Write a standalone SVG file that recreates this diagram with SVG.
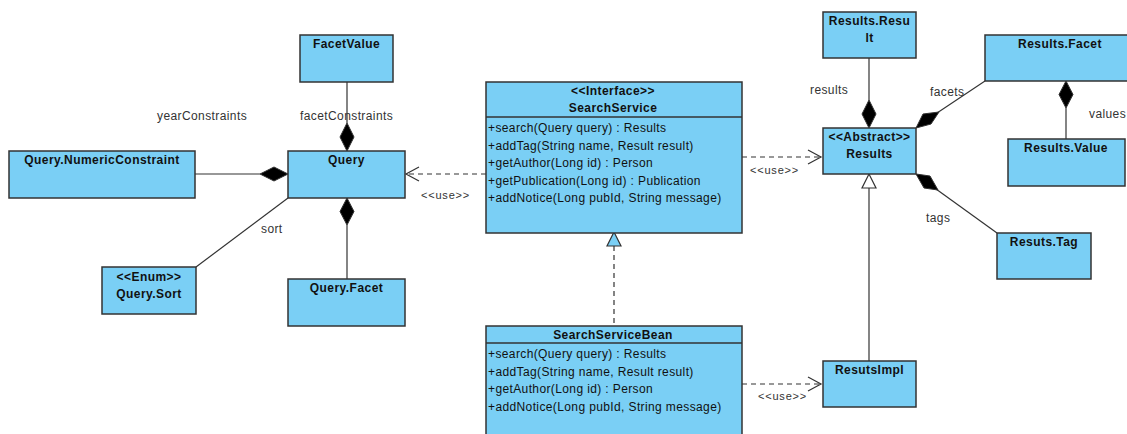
<svg xmlns="http://www.w3.org/2000/svg" width="1127" height="434" viewBox="0 0 1127 434">
<style>
.box{fill:#7acff5;stroke:#333;stroke-width:1.5}
.t{font-family:"Liberation Sans",Arial,sans-serif;font-size:12px;font-weight:bold;fill:#111;text-anchor:middle;letter-spacing:0.45px}
.m{font-family:"Liberation Sans",Arial,sans-serif;font-size:12px;fill:#111;letter-spacing:0.38px}
.lbl{font-family:"Liberation Sans",Arial,sans-serif;font-size:12px;fill:#333;letter-spacing:0.4px}
.use{font-family:"Liberation Sans",Arial,sans-serif;font-size:11px;fill:#333;letter-spacing:0.8px}
.ln{stroke:#333;stroke-width:1.2;fill:none}
.dash{stroke:#333;stroke-width:1.2;fill:none;stroke-dasharray:5,4}
.dia{fill:#000;stroke:#333;stroke-width:1}
</style>
<rect width="1127" height="434" fill="#fff"/>
<g id="connectors">
  <!-- FacetValue - Query -->
  <line class="ln" x1="347" y1="82" x2="347" y2="123"/>
  <polygon class="dia" points="347,151 340,137 347,123 354,137"/>
  <!-- NumericConstraint - Query -->
  <line class="ln" x1="195" y1="174" x2="260" y2="174"/>
  <polygon class="dia" points="288,174 274,167 260,174 274,181"/>
  <!-- Query.Facet - Query -->
  <line class="ln" x1="347" y1="225" x2="347" y2="279"/>
  <polygon class="dia" points="347,198 340,211.5 347,225 354,211.5"/>
  <!-- Sort - Query -->
  <line class="ln" x1="288" y1="198" x2="196" y2="267"/>
  <!-- SearchService -> Query dependency -->
  <line class="dash" x1="486" y1="174" x2="406" y2="174"/>
  <polyline class="ln" points="419,167 406,174 419,181"/>
  <!-- SearchService -> Results dependency -->
  <line class="dash" x1="742" y1="157" x2="821" y2="157"/>
  <polyline class="ln" points="808,150 821,157 808,164"/>
  <!-- SearchServiceBean -> ResutsImpl dependency -->
  <line class="dash" x1="742" y1="384" x2="821" y2="384"/>
  <polyline class="ln" points="808,377 821,384 808,391"/>
  <!-- Realization -->
  <line class="dash" x1="614" y1="246" x2="614" y2="326"/>
  <polygon points="614,232 607,246 621,246" fill="#7acff5" stroke="#333" stroke-width="1.2"/>
  <!-- Generalization ResutsImpl -> Results -->
  <line class="ln" x1="869" y1="188" x2="869" y2="361"/>
  <polygon points="869,174 862,188 876,188" fill="#fff" stroke="#333" stroke-width="1.2"/>
  <!-- Results.Result - Results -->
  <line class="ln" x1="869" y1="58" x2="869" y2="100"/>
  <polygon class="dia" points="869,128 862,114 869,100 876,114"/>
  <!-- Results.Facet - Results -->
  <line class="ln" x1="937" y1="113" x2="985" y2="81"/>
  <polygon class="dia" points="916,128 923,114 939,112 931,124"/>
  <!-- Results.Value - Results.Facet -->
  <line class="ln" x1="1066" y1="108" x2="1066" y2="139"/>
  <polygon class="dia" points="1066,81 1059,94.5 1066,108 1073,94.5"/>
  <!-- Results.Tag - Results -->
  <line class="ln" x1="936" y1="189" x2="997" y2="233"/>
  <polygon class="dia" points="916,174 930,176 938,190 924,188"/>
  <!-- labels -->
  <text class="lbl" x="157" y="120">yearConstraints</text>
  <text class="lbl" x="300" y="120">facetConstraints</text>
  <text class="lbl" x="261" y="233">sort</text>
  <text class="use" x="421" y="199">&lt;&lt;use&gt;&gt;</text>
  <text class="use" x="750" y="174">&lt;&lt;use&gt;&gt;</text>
  <text class="use" x="758" y="400">&lt;&lt;use&gt;&gt;</text>
  <text class="lbl" x="810" y="94">results</text>
  <text class="lbl" x="930" y="96">facets</text>
  <text class="lbl" x="1089" y="118">values</text>
  <text class="lbl" x="926" y="222">tags</text>
</g>
<g id="FacetValue">
  <rect class="box" x="300" y="35" width="93" height="47"/>
  <text class="t" x="346.5" y="48">FacetValue</text>
</g>
<g id="QueryNumericConstraint">
  <rect class="box" x="9" y="151" width="186" height="47"/>
  <text class="t" x="102" y="164">Query.NumericConstraint</text>
</g>
<g id="Query">
  <rect class="box" x="288" y="151" width="117" height="47"/>
  <text class="t" x="346.5" y="164">Query</text>
</g>
<g id="QuerySort">
  <rect class="box" x="102" y="267" width="94" height="47"/>
  <text class="t" x="149" y="281">&lt;&lt;Enum&gt;&gt;</text>
  <text class="t" x="149" y="298">Query.Sort</text>
</g>
<g id="QueryFacet">
  <rect class="box" x="288" y="279" width="117" height="47"/>
  <text class="t" x="346.5" y="292">Query.Facet</text>
</g>
<g id="SearchService">
  <rect class="box" x="486" y="82" width="256" height="151"/>
  <line x1="486" y1="117" x2="742" y2="117" stroke="#333" stroke-width="1.5"/>
  <text class="t" x="613" y="95">&lt;&lt;Interface&gt;&gt;</text>
  <text class="t" x="613" y="112">SearchService</text>
  <text class="m" x="488" y="132">+search(Query query) : Results</text>
  <text class="m" x="488" y="150">+addTag(String name, Result result)</text>
  <text class="m" x="488" y="167">+getAuthor(Long id) : Person</text>
  <text class="m" x="488" y="185">+getPublication(Long id) : Publication</text>
  <text class="m" x="488" y="202">+addNotice(Long pubId, String message)</text>
</g>
<g id="SearchServiceBean">
  <rect class="box" x="486" y="326" width="256" height="120"/>
  <line x1="486" y1="343" x2="742" y2="343" stroke="#333" stroke-width="1.5"/>
  <text class="t" x="613" y="339">SearchServiceBean</text>
  <text class="m" x="488" y="358">+search(Query query) : Results</text>
  <text class="m" x="488" y="376">+addTag(String name, Result result)</text>
  <text class="m" x="488" y="393">+getAuthor(Long id) : Person</text>
  <text class="m" x="488" y="411">+addNotice(Long pubId, String message)</text>
</g>
<g id="ResultsResult">
  <rect class="box" x="823" y="12" width="93" height="46"/>
  <text class="t" x="869.5" y="25">Results.Resu</text>
  <text class="t" x="869.5" y="42">lt</text>
</g>
<g id="Results">
  <rect class="box" x="823" y="128" width="93" height="46"/>
  <text class="t" x="869.5" y="141">&lt;&lt;Abstract&gt;&gt;</text>
  <text class="t" x="869.5" y="158">Results</text>
</g>
<g id="ResultsFacet">
  <rect class="box" x="985" y="35" width="150" height="46"/>
  <text class="t" x="1060" y="48">Results.Facet</text>
</g>
<g id="ResultsValue">
  <rect class="box" x="1008" y="139" width="117" height="47"/>
  <text class="t" x="1066" y="152">Results.Value</text>
</g>
<g id="ResultsTag">
  <rect class="box" x="997" y="233" width="94" height="46"/>
  <text class="t" x="1044" y="246">Resuts.Tag</text>
</g>
<g id="ResutsImpl">
  <rect class="box" x="823" y="361" width="93" height="46"/>
  <text class="t" x="869.5" y="374">ResutsImpl</text>
</g>
</svg>
